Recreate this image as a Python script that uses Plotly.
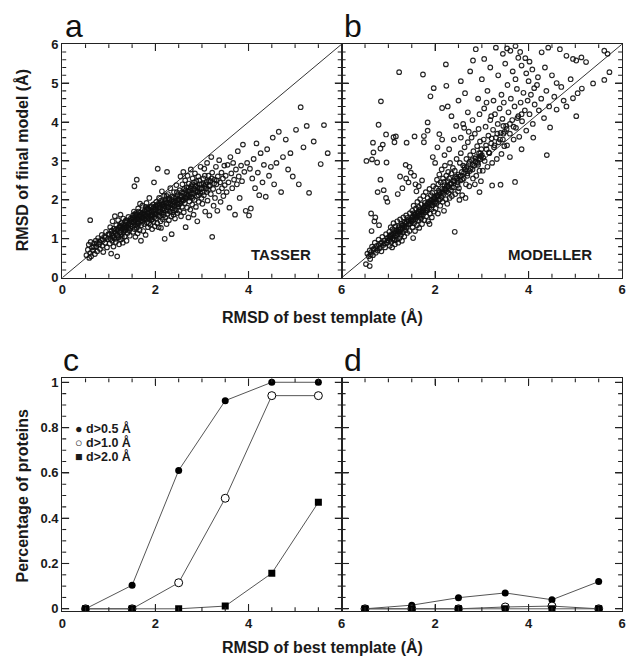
import plotly.graph_objects as go

# ---------------- data ----------------
tasser_x = [
    0.52,0.55,0.57,0.58,0.60,0.61,0.62,0.64,0.66,0.68,
    0.70,0.72,0.73,0.75,0.77,0.79,0.81,0.83,0.85,0.86,
    0.88,0.90,0.92,0.94,0.96,0.98,0.60,
    1.01,1.02,1.03,1.04,1.05,1.06,1.07,1.08,1.09,1.10,
    1.11,1.12,1.13,1.14,1.15,1.16,1.17,1.18,1.19,1.20,
    1.21,1.22,1.23,1.24,1.25,1.26,1.27,1.28,1.29,1.30,
    1.31,1.32,1.33,1.34,1.35,1.36,1.38,1.39,1.40,1.42,
    1.43,1.45,1.46,1.48,
    1.50,1.51,1.52,1.53,1.54,1.55,1.55,1.56,1.57,1.58,
    1.59,1.60,1.60,1.61,1.62,1.63,1.64,1.65,1.66,1.67,
    1.68,1.69,1.70,1.71,1.72,1.73,1.74,1.75,1.76,1.77,
    1.78,1.79,1.80,1.81,1.82,1.83,1.84,1.85,1.86,1.87,
    1.88,1.89,1.90,1.91,1.92,1.93,1.94,1.95,1.96,1.97,
    1.98,1.99,1.52,1.67,1.74,1.84,1.93,1.97,
    2.00,2.01,2.02,2.03,2.04,2.05,2.05,2.06,2.07,2.08,
    2.09,2.10,2.11,2.12,2.13,2.14,2.15,2.16,2.17,2.18,
    2.19,2.20,2.20,2.21,2.22,2.23,2.24,2.25,2.25,2.26,
    2.27,2.28,2.29,2.30,2.31,2.32,2.33,2.34,2.35,2.36,
    2.37,2.38,2.39,2.40,2.41,2.42,2.43,2.44,2.45,2.46,
    2.47,2.48,2.49,2.12,
    2.50,2.51,2.52,2.53,2.54,2.55,2.56,2.57,2.58,2.59,
    2.60,2.61,2.62,2.63,2.64,2.65,2.66,2.67,2.68,2.69,
    2.70,2.71,2.72,2.73,2.74,2.75,2.76,2.77,2.78,2.79,
    2.80,2.81,2.82,2.83,2.84,2.85,2.86,2.87,2.88,2.89,
    2.90,2.91,2.92,2.93,2.95,2.96,2.97,2.99,
    3.00,3.01,3.03,3.04,3.05,3.07,3.08,3.10,3.11,3.12,
    3.14,3.15,3.16,3.18,3.19,3.20,3.22,3.22,3.24,3.25,
    3.27,3.28,3.30,3.31,3.33,3.34,3.36,3.37,3.39,3.40,
    3.42,3.43,3.45,3.46,3.48,3.49,
    3.51,3.53,3.55,3.57,3.59,3.61,3.63,3.65,3.67,3.69,
    3.71,3.73,3.75,3.77,3.79,3.81,3.84,3.86,3.88,3.91,
    3.94,3.97,
    4.01,4.03,4.05,4.08,4.11,4.14,4.17,4.20,4.23,4.26,
    4.30,4.33,4.37,4.40,4.44,4.48,
    4.52,4.55,4.60,4.65,4.70,4.74,4.80,4.85,4.90,4.95,
    5.02,5.08,5.12,5.18,5.25,5.30,5.40,5.55,5.62,5.70,
    1.24,1.33,1.41,1.47,1.53,1.58,1.63,1.69,1.72,1.78,
    1.83,1.87,1.91,1.95,2.01,2.06,2.10,2.15,2.19,2.23,
    2.27,2.31,2.36,2.40,2.44,2.49,2.53,2.58,2.62,2.67,
    2.71,2.76,2.80,2.85,2.90,2.94,2.98,3.03,3.09,3.15,
    1.15,1.28,1.37,1.44,1.56,1.64,1.79,1.86,1.99,2.08,
    2.17,2.29,2.38,2.47,2.56,2.64,2.73,2.83,2.93,3.06,
    1.06,1.12,1.18,1.21,1.26,1.30,1.35,1.39,1.42,1.46,
    1.49,1.54,1.57,1.61,1.65,1.68,1.71,1.75,1.80,1.82,
    1.85,1.89,1.92,1.96,2.00,2.03,2.07,2.11,2.14,2.18,
    2.21,2.24,2.28,2.32,2.35,2.39,2.42,2.46,2.50,2.54,
    2.57,2.61,2.65,2.69,2.72,2.76,2.79,2.83,2.87,2.91,
    2.95,2.99,3.02,3.06,3.10,3.13,3.17,3.21,3.26,3.32,
    0.68,0.74,0.80,0.87,0.93,0.99,1.09,1.16,1.27,1.34,
    1.44,1.55,1.62,1.73,1.81,1.90,2.02,2.13,2.26,2.37,
]
tasser_y = [
    0.58,0.72,0.85,0.51,0.63,0.92,0.55,0.78,0.70,0.88,
    0.61,0.95,0.80,0.68,1.02,0.86,0.74,0.97,1.10,0.82,
    0.66,1.05,0.90,1.18,0.78,0.99,1.48,
    1.12,0.88,1.30,1.00,0.62,1.21,0.95,1.45,1.08,0.80,
    1.26,1.02,1.58,1.15,0.92,1.35,1.10,0.55,1.22,1.48,
    1.04,0.86,1.30,1.17,1.62,0.98,1.40,1.12,1.25,0.90,
    1.52,1.18,1.34,1.06,1.44,1.22,0.95,1.30,1.15,1.56,
    1.38,1.08,1.27,1.45,
    1.32,1.55,1.18,1.42,1.70,2.35,1.25,1.48,1.05,1.36,
    1.62,2.52,1.28,1.50,1.14,1.78,1.40,1.58,1.22,1.46,
    1.68,0.95,1.35,1.54,1.85,1.44,1.20,1.62,1.38,1.72,
    1.50,1.10,1.58,1.92,1.42,1.66,1.30,1.76,1.52,2.05,
    1.60,1.36,1.82,1.48,1.70,1.25,1.62,1.88,1.44,1.74,
    1.56,1.32,1.60,1.90,1.66,1.55,1.50,2.45,
    1.75,1.52,1.95,1.62,1.40,2.80,1.85,1.70,1.30,2.05,
    1.58,1.80,1.45,1.98,1.66,2.22,1.76,1.50,1.90,1.62,
    2.10,1.00,1.84,1.55,2.02,1.72,1.38,2.72,1.92,1.64,
    2.15,1.80,1.48,2.00,1.70,2.30,1.88,1.58,1.12,2.08,
    1.78,1.95,1.62,2.20,1.85,1.52,2.05,1.74,2.38,1.92,
    1.66,2.12,1.82,1.28,
    2.02,1.72,2.25,1.90,2.60,1.58,2.10,1.82,2.40,1.98,
    2.72,1.68,2.18,1.92,2.50,1.30,2.05,2.32,1.80,2.62,
    2.12,1.55,2.42,1.96,2.25,1.75,2.78,2.08,2.35,1.88,
    2.55,2.15,1.62,2.45,2.00,2.68,2.22,1.82,2.48,2.10,
    1.45,2.32,2.60,1.95,2.40,2.18,2.85,2.05,
    2.30,1.90,2.55,2.12,2.80,1.70,2.40,2.20,2.95,1.98,
    2.62,2.35,1.60,2.48,2.15,3.10,1.05,2.70,2.28,1.85,
    2.52,2.05,2.85,2.40,1.72,2.60,2.22,3.02,2.45,1.95,
    2.70,2.30,2.55,2.10,2.88,2.38,
    2.62,2.20,2.90,2.45,1.80,3.10,2.68,2.30,2.95,2.52,
    1.62,2.78,2.40,3.25,2.60,2.05,2.88,2.48,3.42,2.72,
    1.72,2.95,
    1.60,2.80,1.78,2.55,3.05,2.30,3.45,2.70,2.12,3.20,
    2.45,2.90,2.08,3.30,2.62,2.85,
    3.60,2.40,2.95,3.75,2.20,3.10,3.55,2.78,3.20,2.60,
    3.80,2.40,4.38,3.35,3.90,2.18,3.50,2.92,3.92,3.20,
    1.34,1.28,1.35,1.52,1.50,1.66,1.55,1.58,1.48,1.62,
    1.78,1.68,1.60,1.70,1.84,1.60,1.70,1.86,1.78,1.92,
    1.74,1.94,1.86,1.72,1.98,2.00,2.10,2.02,2.28,2.14,
    2.22,2.30,2.05,2.36,2.20,2.50,2.28,2.42,2.30,2.50,
    1.00,1.05,1.48,1.22,1.34,1.70,1.82,1.40,1.62,1.92,
    1.68,2.04,1.68,1.88,1.96,2.06,2.06,2.28,2.12,2.62,
    1.14,1.20,1.08,1.28,1.18,1.36,1.30,1.42,1.28,1.36,
    1.50,1.44,1.56,1.42,1.50,1.62,1.66,1.52,1.70,1.58,
    1.64,1.74,1.84,1.80,1.66,1.88,1.80,1.72,1.94,1.84,
    1.96,2.10,1.90,1.80,2.00,2.06,1.94,2.20,1.88,2.06,
    2.20,2.00,2.24,2.08,2.32,2.16,2.40,2.18,2.34,2.22,
    2.30,2.40,2.20,2.36,2.46,2.26,2.38,2.55,2.42,2.50,
    0.80,0.88,0.92,0.98,1.04,1.12,1.04,1.24,1.32,1.24,
    1.42,1.62,1.34,1.56,1.76,1.56,1.80,1.88,1.82,1.90,
]

modeller_x = [
    0.52,0.55,0.58,0.60,0.61,0.63,0.65,0.67,0.69,0.71,
    0.73,0.75,0.77,0.79,0.81,0.83,0.85,0.87,0.89,0.91,
    0.93,0.95,0.97,0.99,
    1.01,1.02,1.03,1.04,1.05,1.06,1.07,1.08,1.09,1.10,
    1.11,1.12,1.13,1.14,1.15,1.16,1.17,1.18,1.19,1.20,
    1.21,1.22,1.23,1.24,1.25,1.26,1.27,1.28,1.29,1.30,
    1.31,1.32,1.33,1.34,1.35,1.36,1.38,1.39,1.40,1.42,
    1.43,1.45,1.46,1.48,
    1.50,1.51,1.52,1.53,1.54,1.55,1.56,1.57,1.58,1.59,
    1.60,1.61,1.62,1.63,1.64,1.65,1.66,1.67,1.68,1.69,
    1.70,1.71,1.72,1.73,1.74,1.75,1.76,1.77,1.78,1.79,
    1.80,1.81,1.82,1.83,1.84,1.85,1.86,1.87,1.88,1.89,
    1.90,1.91,1.92,1.93,1.94,1.95,1.96,1.97,1.98,1.99,
    1.53,1.88,
    2.00,2.01,2.02,2.03,2.04,2.05,2.06,2.07,2.08,2.09,
    2.10,2.11,2.12,2.13,2.14,2.15,2.16,2.17,2.18,2.19,
    2.20,2.21,2.22,2.23,2.24,2.25,2.26,2.27,2.28,2.29,
    2.30,2.31,2.32,2.33,2.34,2.35,2.36,2.38,2.39,2.40,
    2.42,2.43,2.45,2.46,2.48,2.49,
    2.50,2.51,2.53,2.54,2.55,2.57,2.58,2.60,2.61,2.63,
    2.64,2.66,2.67,2.69,2.70,2.72,2.73,2.75,2.76,2.78,
    2.79,2.81,2.82,2.84,2.85,2.87,2.88,2.90,2.91,2.93,
    2.94,2.95,2.96,2.97,2.98,2.99,2.52,2.85,
    3.00,3.02,3.04,3.06,3.08,3.10,3.12,3.14,3.16,3.18,
    3.20,3.22,3.24,3.26,3.28,3.30,3.32,3.34,3.36,3.38,
    3.40,3.42,3.44,3.45,3.46,3.47,3.48,3.49,
    3.52,3.54,3.57,3.60,3.62,3.65,3.68,3.70,3.73,3.75,
    3.78,3.80,3.83,3.86,3.89,3.92,3.95,3.98,
    4.02,4.05,4.09,4.13,4.18,4.22,4.27,4.33,4.38,4.44,
    1.05,1.14,1.22,1.31,1.37,1.44,1.52,1.58,1.64,1.71,
    1.77,1.84,1.90,1.96,2.03,2.09,2.15,2.22,2.28,2.35,
    2.41,2.47,2.55,2.62,2.68,2.74,2.80,2.86,2.92,2.98,
    1.23,1.74,0.84,0.79,0.53,0.65,0.76,0.96,0.67,0.68,
    0.83,0.88,0.95,1.11,1.13,1.16,1.39,1.56,1.76,1.76,
    1.84,1.84,1.97,1.90,2.09,2.24,2.23,2.15,2.27,2.87,
    2.81,2.64,1.37,1.45,1.48,1.38,1.43,1.55,1.58,1.65,
    1.60,1.72,1.30,1.25,1.20,0.83,0.77,0.90,0.95,0.98,
    0.63,0.70,0.72,0.64,0.80,0.60,3.05,3.30,3.54,3.61,
    3.72,3.82,3.93,4.28,4.42,4.67,4.81,4.95,5.02,5.13,
    5.23,5.62,5.69,2.35,2.45,2.50,2.55,2.62,2.70,2.75,
    2.92,3.00,3.05,3.12,3.18,3.25,3.35,3.42,3.50,3.55,
    3.66,3.72,3.85,3.95,4.00,4.08,4.12,4.20,4.35,4.50,
    4.02,3.78,3.45,5.38,5.73,5.62,5.14,5.05,4.95,5.02,
    4.81,4.60,4.46,4.39,4.55,4.70,4.90,4.60,4.75,2.42,
    3.22,3.71,3.40,2.95,3.60,3.85,4.10,2.65,2.60,2.80,
    2.95,3.10,2.72,3.20,2.40,2.55,2.30,2.20,2.05,2.00,
    1.95,2.15,
    0.62,0.68,0.74,0.80,0.86,0.92,0.98,1.04,1.10,1.16,
    1.20,1.25,1.29,1.34,1.39,1.44,1.48,1.53,1.57,1.62,
    1.66,1.70,1.75,1.79,1.83,1.88,1.92,1.97,2.01,2.06,
    2.11,2.16,2.20,2.25,2.31,2.36,2.42,2.48,2.53,2.58,
    2.63,2.69,2.74,2.80,2.86,2.92,2.97,3.03,3.09,3.15,
    3.21,3.27,3.33,3.39,3.46,3.53,3.60,3.68,3.76,3.85,
    1.02,1.13,1.27,1.41,1.55,1.68,1.81,1.94,2.07,2.19,
]
modeller_y = [
    0.35,0.62,0.55,0.70,0.48,0.66,0.80,0.58,0.75,0.90,
    0.64,0.82,0.70,0.98,0.76,0.88,0.68,1.05,0.84,0.95,
    0.78,1.12,0.90,1.02,
    0.95,1.18,0.82,1.05,1.30,0.92,1.12,0.78,1.25,1.02,
    1.40,0.96,1.15,0.86,1.32,1.08,1.22,0.98,1.45,1.12,
    0.90,1.30,1.18,1.02,1.50,1.24,1.10,1.38,0.95,1.28,
    1.16,1.55,1.34,1.06,1.42,1.22,1.60,1.30,1.15,1.48,
    1.36,1.20,1.66,1.40,
    1.45,1.72,1.30,1.58,1.85,1.40,1.62,1.20,1.50,1.78,
    1.55,1.35,1.95,1.66,1.48,1.82,1.28,1.60,2.02,1.70,
    1.52,1.88,1.38,1.75,1.62,2.10,1.80,1.48,1.92,1.68,
    2.20,1.58,1.85,1.72,2.05,1.45,1.95,1.80,2.28,1.65,
    1.90,2.12,1.76,1.55,2.00,1.86,2.35,1.70,2.08,1.92,
    1.02,1.38,
    2.05,1.78,2.30,1.92,2.52,2.12,1.65,2.40,2.00,2.65,
    2.20,1.85,2.45,2.08,2.78,2.28,1.95,2.55,2.15,1.72,
    2.38,2.88,2.25,2.02,2.62,2.35,1.90,2.48,2.72,2.18,
    2.55,2.05,2.95,2.42,2.25,2.68,2.10,2.82,2.50,2.32,
    2.75,2.15,2.60,3.05,2.45,2.22,
    2.65,2.30,2.95,2.50,3.20,2.72,2.12,2.88,2.55,3.35,
    2.78,2.40,3.05,2.68,3.48,2.92,2.35,3.15,2.80,3.60,
    3.02,2.55,3.25,2.88,3.70,3.10,2.62,3.38,2.95,3.82,
    3.20,2.75,3.50,3.05,2.48,3.30,2.00,2.40,
    3.15,2.75,3.55,3.00,3.88,3.30,2.85,3.65,3.20,4.05,
    3.45,2.95,3.80,3.35,4.20,3.60,3.05,3.95,3.48,4.35,
    3.72,3.18,4.08,3.55,3.90,4.50,3.38,3.75,
    3.90,3.40,4.25,3.70,4.60,4.05,3.55,4.40,3.85,4.85,
    4.15,3.62,4.50,4.02,4.75,4.30,3.78,4.55,
    4.20,4.70,3.95,4.45,4.95,4.30,4.60,4.10,4.80,4.40,
    1.08,1.20,1.24,1.36,1.38,1.46,1.55,1.62,1.70,1.68,
    1.82,1.90,1.98,1.95,2.10,2.15,2.22,2.30,2.35,2.42,
    2.48,2.55,2.62,2.70,2.85,2.74,2.92,2.98,3.05,3.12,
    5.28,5.22,4.53,3.93,3.00,3.04,2.96,2.96,3.47,3.22,
    3.32,3.42,3.68,3.61,3.48,3.63,3.47,3.63,3.64,3.48,
    3.99,3.78,4.87,4.66,3.69,4.93,5.48,4.36,4.40,5.87,
    5.58,4.74,2.90,2.85,2.70,2.55,2.45,2.62,2.40,2.35,
    2.22,2.50,2.30,2.60,2.15,2.52,2.20,2.25,2.05,1.95,
    1.65,1.45,1.55,1.20,1.35,0.30,5.62,5.91,5.89,5.83,
    5.95,5.80,5.64,5.79,5.91,5.87,5.70,5.62,5.58,5.66,
    5.54,5.83,5.75,4.15,3.90,4.55,5.05,3.85,4.25,5.30,
    4.60,5.10,4.35,4.80,5.40,4.55,5.20,4.70,5.50,4.95,
    5.30,5.10,5.45,5.25,5.05,5.35,4.87,5.15,5.40,5.20,
    5.55,5.65,5.75,4.99,5.28,5.08,4.86,4.74,4.61,4.15,
    4.40,4.32,3.86,3.15,4.65,4.90,5.10,5.00,4.55,1.18,
    2.37,2.46,2.39,2.20,3.10,3.30,3.60,2.05,3.95,4.05,
    4.20,4.50,3.75,4.15,3.55,3.60,3.30,3.15,3.35,2.95,
    3.10,3.55,
    0.60,0.72,0.76,0.84,0.90,0.88,0.96,1.00,1.10,1.14,
    1.20,1.18,1.34,1.30,1.44,1.38,1.50,1.48,1.58,1.60,
    1.74,1.62,1.72,1.86,1.78,1.92,1.86,2.02,1.96,2.08,
    2.02,2.18,2.28,2.22,2.40,2.32,2.56,2.38,2.60,2.52,
    2.84,2.62,2.98,2.78,3.06,2.90,3.20,3.08,3.40,3.22,
    3.58,3.40,3.70,3.55,3.70,3.82,3.95,3.88,4.10,4.20,
    1.06,0.98,1.26,1.54,1.66,1.56,1.74,2.18,2.24,2.46,
]

diag = [0, 6]

bin_centers = [0.5, 1.5, 2.5, 3.5, 4.5, 5.5]
tasser_d05 = [0.0, 0.104, 0.611, 0.919, 1.0, 1.0]
tasser_d10 = [0.0, 0.0, 0.115, 0.488, 0.941, 0.941]
tasser_d20 = [0.0, 0.0, 0.0, 0.012, 0.157, 0.47]
modeller_d05 = [0.0, 0.016, 0.049, 0.07, 0.04, 0.12]
modeller_d10 = [0.0, 0.0, 0.0, 0.008, 0.012, 0.0]
modeller_d20 = [0.0, 0.0, 0.0, 0.0, 0.0, 0.0]

legend_labels = ["d>0.5 Å", "d>1.0 Å", "d>2.0 Å"]

# ---------------- figure ----------------
W, H = 630, 665
FONT = "Liberation Sans, Arial, Helvetica, sans-serif"
AX = "#222222"

def px_x(p):
    return p / W

def px_y(p):
    return 1 - p / H

fig = go.Figure()

scatter_marker = dict(symbol="circle-open", size=4.6, color="rgba(15,15,15,0.9)",
                      line=dict(width=1.2))

fig.add_trace(go.Scatter(x=tasser_x, y=tasser_y, mode="markers", marker=scatter_marker,
                         xaxis="x", yaxis="y", showlegend=False))
fig.add_trace(go.Scatter(x=modeller_x, y=modeller_y, mode="markers", marker=scatter_marker,
                         xaxis="x2", yaxis="y2", showlegend=False))

line_style = dict(color="#555555", width=1)
series = [
    (tasser_d05, modeller_d05, dict(symbol="circle", size=7, color="black")),
    (tasser_d10, modeller_d10, dict(symbol="circle", size=8, color="white",
                                    line=dict(color="black", width=1))),
    (tasser_d20, modeller_d20, dict(symbol="square", size=7, color="black")),
]
for tv, mv, mk in series:
    fig.add_trace(go.Scatter(x=bin_centers, y=tv, mode="lines+markers", line=line_style,
                             marker=mk, xaxis="x3", yaxis="y3", showlegend=False))
    fig.add_trace(go.Scatter(x=bin_centers, y=mv, mode="lines+markers", line=line_style,
                             marker=mk, xaxis="x4", yaxis="y4", showlegend=False))

shapes = []
for xr, yr in (("x", "y"), ("x2", "y2")):
    shapes.append(dict(type="line", xref=xr, yref=yr, x0=diag[0], y0=diag[0], x1=diag[1],
                       y1=diag[1], line=dict(color="#333333", width=1), layer="below"))

tickfont = dict(family=FONT, size=13, color="#1a1a1a", weight="bold")

def xaxis(domain, anchor, hide_zero=False):
    d = dict(domain=domain, anchor=anchor, range=[0, 6], tickmode="linear", tick0=0,
             dtick=2, ticks="inside", ticklen=7, tickwidth=1.2, tickcolor=AX,
             showline=True, linecolor=AX, linewidth=1.2, mirror="ticks",
             showgrid=False, zeroline=False, tickfont=tickfont)
    if hide_zero:
        d["labelalias"] = {"0": " "}
    return d

def yaxis(domain, anchor, rng, major, showlabels=True):
    return dict(domain=domain, anchor=anchor, range=rng, tickmode="linear", tick0=0,
                dtick=major, ticks="inside", ticklen=7,
                tickwidth=1.2, tickcolor=AX, showline=True, linecolor=AX, linewidth=1.2,
                mirror="ticks", showgrid=False, zeroline=False, tickfont=tickfont,
                showticklabels=showlabels)

xa = [px_x(59), px_x(342)]
xb = [px_x(342), px_x(626)]
ytop = [px_y(277), px_y(38)]
ybot = [px_y(618), px_y(380)]

# tick marks drawn as short segments along every frame edge
x_minor = [i * 0.5 for i in range(1, 12)]
top_minor = [i * 0.2 for i in range(1, 30)]
bot_minor = [i * 0.05 for i in range(0, 21)]
panels = [
    ("x", "y", ytop, top_minor, 1.0),
    ("x2", "y2", ytop, top_minor, 1.0),
    ("x3", "y3", ybot, bot_minor, 0.2),
    ("x4", "y4", ybot, bot_minor, 0.2),
]
tick_line = dict(color=AX, width=1.1)
for xr, yr, ydom, yminor, ymajor in panels:
    hpx = (ydom[1] - ydom[0]) * H
    wpx = 284.0
    for t in x_minor:
        L = 7 if abs(t % 2) < 1e-9 else 4
        f = L / hpx
        shapes.append(dict(type="line", xref=xr, yref=yr + " domain", x0=t, x1=t,
                           y0=0, y1=f, line=tick_line))
        shapes.append(dict(type="line", xref=xr, yref=yr + " domain", x0=t, x1=t,
                           y0=1, y1=1 - f, line=tick_line))
    for t in yminor:
        r = t / ymajor
        L = 7 if abs(r - round(r)) < 1e-6 else 4
        f = L / wpx
        shapes.append(dict(type="line", xref=xr + " domain", yref=yr, x0=0, x1=f,
                           y0=t, y1=t, line=tick_line))
        shapes.append(dict(type="line", xref=xr + " domain", yref=yr, x0=1, x1=1 - f,
                           y0=t, y1=t, line=tick_line))

fig.update_layout(
    width=W, height=H, margin=dict(l=0, r=0, t=0, b=0),
    paper_bgcolor="white", plot_bgcolor="white",
    font=dict(family=FONT, color="#1a1a1a"),
    xaxis=xaxis(xa, "y"),
    yaxis=yaxis(ytop, "x", [0, 6], 1),
    xaxis2=xaxis(xb, "y2", hide_zero=True),
    yaxis2=yaxis(ytop, "x2", [0, 6], 1, showlabels=False),
    xaxis3=xaxis(xa, "y3"),
    yaxis3=yaxis(ybot, "x3", [-0.01, 1.017], 0.2),
    xaxis4=xaxis(xb, "y4", hide_zero=True),
    yaxis4=yaxis(ybot, "x4", [-0.01, 1.017], 0.2, showlabels=False),
    shapes=shapes,
)

ann = []
for letter, x, ybase in (("a", 60, 33), ("b", 342, 33), ("c", 58, 375), ("d", 342, 375)):
    ann.append(dict(text=letter, xref="paper", yref="paper", x=px_x(x), y=px_y(ybase + 7),
                    xanchor="left", yanchor="bottom", showarrow=False,
                    font=dict(family=FONT, size=32, color="#111")))
bold = dict(family=FONT, color="#1a1a1a", weight="bold")
ann.append(dict(text="RMSD of best template (Å)", xref="paper", yref="paper",
                x=px_x(323), y=px_y(317), xanchor="center", yanchor="middle",
                showarrow=False, font=dict(size=16, **bold)))
ann.append(dict(text="RMSD of best template (Å)", xref="paper", yref="paper",
                x=px_x(323), y=px_y(655), xanchor="center", yanchor="middle",
                showarrow=False, font=dict(size=16, **bold)))
ann.append(dict(text="RMSD of final model (Å)", xref="paper", yref="paper",
                x=px_x(19), y=px_y(157), xanchor="center", yanchor="middle", textangle=-90,
                showarrow=False, font=dict(size=16, **bold)))
ann.append(dict(text="Percentage of proteins", xref="paper", yref="paper",
                x=px_x(19), y=px_y(500), xanchor="center", yanchor="middle", textangle=-90,
                showarrow=False, font=dict(size=16, **bold)))
ann.append(dict(text="TASSER", xref="paper", yref="paper", x=px_x(281), y=px_y(253),
                xanchor="center", yanchor="middle", showarrow=False,
                font=dict(size=15, **bold)))
ann.append(dict(text="MODELLER", xref="paper", yref="paper", x=px_x(553), y=px_y(253),
                xanchor="center", yanchor="middle", showarrow=False,
                font=dict(size=15, **bold)))
symbols = ["●", "○", "■"]
for i, (sym, lab) in enumerate(zip(symbols, legend_labels)):
    ann.append(dict(text=sym + " " + lab, xref="paper", yref="paper", x=px_x(70),
                    y=px_y(431 + 14.5 * i), xanchor="left", yanchor="middle", showarrow=False,
                    font=dict(size=12.5, **bold)))
fig.update_layout(annotations=ann)

fig.write_html("out.html", config={"displayModeBar": False},
               post_script="document.body.style.margin='0';document.body.style.padding='0';")
